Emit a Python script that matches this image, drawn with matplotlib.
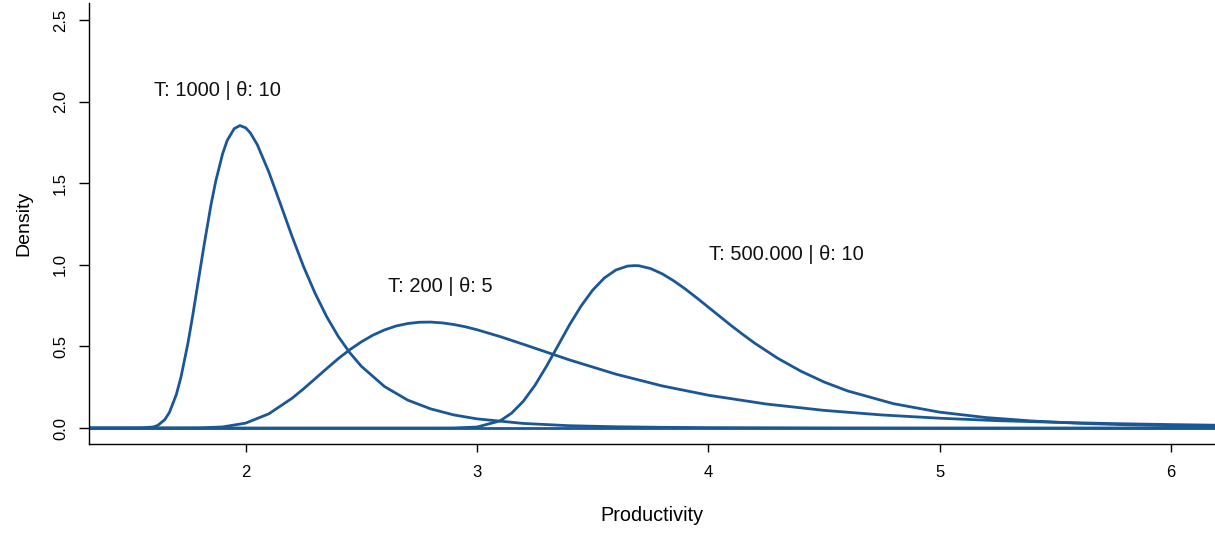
import matplotlib
matplotlib.use("Agg")
from matplotlib import pyplot as plt

# densities (x = productivity, y = density)
x_t1000 = [1.32, 1.55, 1.60, 1.62, 1.65, 1.67, 1.70, 1.72, 1.75, 1.77, 1.80, 1.82, 1.85,
           1.87, 1.90, 1.92, 1.95, 1.975, 2.00, 2.02, 2.05, 2.10, 2.15, 2.20, 2.25, 2.30,
           2.35, 2.40, 2.45, 2.50, 2.60, 2.70, 2.80, 2.90, 3.00, 3.20, 3.40, 3.60, 3.80,
           4.00, 4.50, 5.00, 6.20]
y_t1000 = [0.0, 0.0003, 0.0064, 0.016, 0.051, 0.095, 0.205, 0.311, 0.518, 0.682, 0.945,
           1.121, 1.369, 1.510, 1.680, 1.762, 1.834, 1.853, 1.839, 1.808, 1.736, 1.568,
           1.373, 1.175, 0.989, 0.825, 0.682, 0.561, 0.461, 0.378, 0.254, 0.171, 0.117,
           0.080, 0.056, 0.028, 0.014, 0.0076, 0.0042, 0.0024, 0.0007, 0.0002, 0.0]

x_t200 = [1.32, 1.70, 1.80, 1.90, 2.00, 2.10, 2.20, 2.25, 2.30, 2.35, 2.40, 2.45, 2.50,
          2.55, 2.60, 2.65, 2.70, 2.75, 2.80, 2.85, 2.90, 2.95, 3.00, 3.10, 3.20, 3.40,
          3.60, 3.80, 4.00, 4.25, 4.50, 4.75, 5.00, 5.25, 5.50, 5.75, 6.00, 6.20]
y_t200 = [0.0, 0.00003, 0.0007, 0.0066, 0.030, 0.087, 0.182, 0.240, 0.302, 0.364, 0.425,
          0.480, 0.528, 0.569, 0.601, 0.625, 0.640, 0.648, 0.649, 0.644, 0.634, 0.620,
          0.602, 0.560, 0.513, 0.417, 0.330, 0.258, 0.201, 0.147, 0.108, 0.080, 0.060,
          0.045, 0.035, 0.027, 0.021, 0.017]

x_t500k = [1.32, 2.80, 2.90, 3.00, 3.10, 3.15, 3.20, 3.25, 3.30, 3.35, 3.40, 3.45, 3.50,
           3.55, 3.60, 3.65, 3.68, 3.70, 3.75, 3.80, 3.85, 3.90, 3.95, 4.00, 4.05, 4.10,
           4.15, 4.20, 4.30, 4.40, 4.50, 4.60, 4.80, 5.00, 5.20, 5.40, 5.60, 5.80, 6.00,
           6.20]
y_t500k = [0.0, 0.0, 0.0003, 0.0059, 0.044, 0.092, 0.164, 0.261, 0.378, 0.505, 0.633,
           0.748, 0.845, 0.919, 0.968, 0.992, 0.995, 0.994, 0.977, 0.945, 0.902, 0.852,
           0.797, 0.740, 0.683, 0.626, 0.572, 0.520, 0.427, 0.348, 0.282, 0.228, 0.149,
           0.097, 0.064, 0.043, 0.029, 0.020, 0.014, 0.010]

x_base = [1.32, 6.20]
y_base = [0.0, 0.0]

labels = ['T: 1000 | θ: 10', 'T: 200 | θ: 5', 'T: 500.000 | θ: 10']
label_x = [1.876, 2.84, 4.335]
label_y = [2.065, 0.87, 1.06]

x_ticks = [2, 3, 4, 5, 6]
y_ticks = [0.0, 0.5, 1.0, 1.5, 2.0, 2.5]

plt.rcParams['font.family'] = ['Liberation Sans', 'DejaVu Sans']
line_col = '#1b5796'

fig = plt.figure(figsize=(12.15, 5.34), dpi=100)
ax = fig.add_axes([89 / 1215, 1 - 444 / 534, (1215 - 89) / 1215, (444 - 3) / 534])

ax.plot(x_base, y_base, color=line_col, lw=2.0)
for xs, ys in [(x_t1000, y_t1000), (x_t200, y_t200), (x_t500k, y_t500k)]:
    ax.plot(xs, ys, color=line_col, lw=2.0, solid_joinstyle='round')

for txt, tx, ty in zip(labels, label_x, label_y):
    ax.text(tx, ty, txt, fontsize=14.5, ha='center', va='center', color='#111111')

ax.set_xlim(1.3225, 6.19)
ax.set_ylim(-0.098, 2.604)

ax.spines['top'].set_visible(False)
ax.spines['right'].set_visible(False)
ax.spines['left'].set_linewidth(1.0)
ax.spines['bottom'].set_linewidth(1.0)

ax.set_xticks(x_ticks)
ax.set_xticklabels([str(t) for t in x_ticks])
ax.set_yticks(y_ticks)
ax.set_yticklabels(['%.1f' % t for t in y_ticks], rotation=90, va='center')
ax.tick_params(axis='x', length=6, width=1.0, pad=9, labelsize=12)
ax.tick_params(axis='y', length=7, width=1.0, pad=8, labelsize=12)

ax.set_xlabel('Productivity', fontsize=14.3, labelpad=19)
ax.set_ylabel('Density', fontsize=14, labelpad=15)

fig.savefig('out.png', dpi=100)
